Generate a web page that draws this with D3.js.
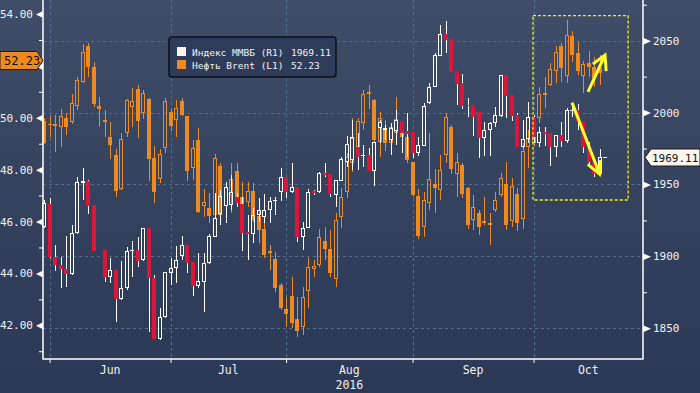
<!DOCTYPE html>
<html lang="ru">
<head>
  <meta charset="utf-8">
  <title>Индекс ММВБ и нефть Brent</title>
  <script src="https://cdn.jsdelivr.net/npm/d3@7"></script>
  <style>
    body {
      margin: 0;
      background: #2c3957;
    }

    svg text {
      font-family: "DejaVu Sans Mono", monospace;
    }
  </style>
</head>

<body>
  <div id="chart"></div>

  <script>
    // trading days, 31 May .. 28 Oct 2016 (only up to 20 Oct carry data)
    var days = d3.timeDay.range(new Date(2016, 4, 31), new Date(2016, 9, 29))
      .filter(function (d) { return d.getDay() !== 0 && d.getDay() !== 6; });

    var monthNames = ['Jun', 'Jul', 'Aug', 'Sep', 'Oct'];
    var yearLabel = '2016';
    var leftTicks = [42, 44, 46, 48, 50, 52, 54];
    var leftMinor = [41, 43, 45, 47, 49, 51, 53];
    var rightTicks = [1850, 1900, 1950, 2000, 2050];
    var rightMinor = [1875, 1925, 1975, 2025, 2075];

    // Brent (L1): open, high, low, close
    var brent = [
      [49.88, 49.99, 48.99, 49.03], [49.72, 50.07, 49.26, 49.76], [49.68, 50.11, 48.68, 49.76], [49.64, 50.34, 48.87, 50.07],
      [49.99, 50.18, 49.34, 49.64], [49.84, 50.92, 49.76, 50.57], [50.45, 51.57, 50.30, 51.46], [51.38, 52.84, 51.34, 52.54],
      [52.77, 52.88, 51.57, 51.96], [51.96, 52.15, 50.42, 50.53], [50.45, 50.80, 49.64, 50.34], [49.91, 50.30, 49.26, 49.84],
      [49.26, 49.84, 48.41, 48.95], [48.57, 48.80, 46.95, 47.18], [47.26, 49.41, 47.22, 49.18], [49.41, 50.72, 49.26, 50.69],
      [50.42, 51.15, 49.64, 50.65], [51.11, 51.26, 49.22, 49.88], [50.18, 51.07, 49.95, 50.96], [50.72, 50.76, 47.56, 48.41],
      [48.45, 48.91, 46.72, 47.14], [47.64, 48.80, 47.49, 48.60], [48.84, 50.76, 48.64, 50.65], [50.22, 50.34, 49.49, 49.68],
      [49.91, 50.69, 49.26, 50.38], [50.65, 50.76, 50.07, 50.11], [50.05, 50.07, 47.56, 47.95], [48.06, 49.14, 47.60, 48.84],
      [49.14, 49.61, 46.33, 46.37], [46.60, 47.26, 46.18, 46.75], [46.52, 47.10, 45.95, 46.21], [46.25, 48.60, 46.18, 48.45],
      [48.14, 48.26, 46.14, 46.25], [46.60, 47.53, 46.37, 47.33], [47.02, 48.26, 46.33, 47.64], [47.95, 48.26, 46.56, 46.95],
      [46.95, 47.53, 46.18, 46.68], [46.75, 47.53, 46.56, 47.18], [47.18, 47.49, 45.98, 46.06], [46.21, 46.72, 45.17, 45.68],
      [45.71, 46.10, 44.60, 44.71], [44.87, 45.10, 44.13, 44.79], [44.56, 44.83, 43.29, 43.44], [43.56, 43.63, 42.59, 42.67],
      [42.63, 43.09, 41.94, 42.44], [43.13, 43.86, 41.90, 42.09], [42.25, 43.09, 41.55, 41.78], [41.94, 43.48, 41.63, 43.09],
      [43.32, 44.60, 42.67, 44.25], [44.17, 44.52, 43.86, 44.29], [44.33, 45.71, 44.25, 45.41], [45.25, 45.79, 44.52, 44.94],
      [44.94, 45.68, 43.86, 44.02], [43.79, 46.33, 43.48, 46.06], [46.18, 47.29, 45.75, 46.95], [47.14, 48.64, 46.91, 48.49],
      [48.26, 49.99, 47.91, 49.22], [48.87, 49.99, 48.49, 49.88], [49.80, 51.07, 49.53, 50.92], [50.99, 51.26, 50.34, 50.92],
      [50.70, 50.72, 49.07, 49.14], [49.07, 50.22, 48.49, 49.99], [49.61, 49.91, 48.72, 49.03], [49.03, 49.80, 48.76, 49.64],
      [49.41, 50.80, 49.22, 49.95], [49.61, 49.84, 49.03, 49.26], [49.26, 49.76, 48.26, 48.37], [48.28, 48.30, 46.95, 47.02],
      [46.99, 47.26, 45.33, 45.44], [45.79, 47.14, 45.41, 46.83], [46.72, 49.41, 46.45, 47.64], [47.45, 48.03, 46.33, 47.29],
      [47.22, 48.57, 46.83, 47.99], [48.57, 50.18, 48.26, 50.03], [49.64, 49.72, 47.83, 48.03], [47.83, 48.64, 46.95, 48.30],
      [48.18, 48.26, 46.91, 47.06], [47.31, 47.33, 45.71, 45.87], [46.06, 47.02, 45.68, 46.56], [46.33, 46.45, 45.48, 45.79],
      [46.02, 46.95, 45.87, 45.95], [45.95, 46.33, 45.10, 45.87], [46.45, 47.14, 46.37, 46.83], [47.02, 47.87, 46.95, 47.68],
      [47.45, 48.30, 45.68, 45.87], [46.02, 47.68, 45.79, 47.37], [47.06, 47.29, 45.64, 45.95], [46.10, 49.03, 45.71, 48.72],
      [48.87, 49.53, 48.06, 49.22], [49.03, 49.38, 48.91, 49.26], [49.99, 51.19, 49.80, 50.92], [50.96, 51.57, 50.38, 50.88],
      [51.26, 52.11, 51.23, 51.88], [51.80, 52.77, 51.34, 52.54], [52.77, 52.88, 51.38, 51.92], [51.61, 53.77, 51.34, 53.19],
      [53.15, 53.34, 52.15, 52.42], [52.50, 52.92, 51.65, 51.80], [51.61, 52.19, 50.96, 52.07], [52.11, 52.57, 51.57, 51.96],
      [51.96, 52.34, 51.19, 51.53], [51.92, 52.42, 51.26, 51.73], [52.23, 52.30, 52.20, 52.23]
    ];

    // MICEX index (R1): open, high, low, close
    var micex = [
      [1920.4, 1939.2, 1919.7, 1937.1], [1936.4, 1940.6, 1898.9, 1899.6], [1899.6, 1907.9, 1889.8, 1894.0], [1894.0, 1899.6, 1878.0, 1891.2],
      [1891.2, 1914.2, 1878.7, 1887.8], [1887.8, 1921.8, 1887.1, 1916.3], [1916.3, 1955.2, 1915.6, 1951.7], [1951.0, 1961.5, 1939.2, 1952.4],
      [1952.4, 1953.1, 1929.5, 1935.0], [1935.7, 1935.9, 1903.5, 1903.8], null, [1904.4, 1904.6, 1882.2, 1885.7],
      [1885.7, 1898.9, 1881.5, 1890.5], [1890.5, 1890.7, 1854.4, 1870.4], [1870.4, 1896.8, 1869.7, 1878.0], [1878.0, 1906.5, 1876.6, 1903.8],
      [1903.8, 1910.7, 1885.7, 1904.4], [1904.4, 1913.5, 1892.6, 1896.8], [1897.5, 1919.7, 1896.8, 1919.5], [1919.5, 1919.7, 1847.4, 1885.0],
      [1885.0, 1887.1, 1842.2, 1842.6], [1842.6, 1864.1, 1841.9, 1857.9], [1857.9, 1889.2, 1857.2, 1889.0], [1888.5, 1898.9, 1880.1, 1891.9],
      [1891.9, 1907.2, 1881.5, 1897.5], [1900.3, 1914.2, 1897.5, 1907.9], [1907.7, 1907.9, 1888.5, 1895.4], [1896.0, 1896.1, 1872.5, 1879.4],
      [1879.4, 1902.4, 1878.0, 1882.9], [1882.2, 1902.4, 1861.3, 1895.4], [1895.4, 1915.6, 1894.7, 1914.2], [1913.5, 1944.1, 1913.3, 1926.7],
      [1929.5, 1946.2, 1921.8, 1942.0], [1935.0, 1951.7, 1923.2, 1948.3], [1935.7, 1956.6, 1932.3, 1944.8], [1941.3, 1944.1, 1934.4, 1937.1],
      [1936.4, 1941.3, 1903.8, 1916.3], [1917.0, 1928.8, 1897.5, 1915.6], [1915.6, 1933.7, 1909.3, 1928.8], [1928.8, 1940.6, 1923.9, 1932.3],
      [1927.4, 1943.4, 1923.2, 1932.3], [1932.3, 1941.3, 1923.2, 1938.5], [1938.5, 1941.3, 1928.8, 1939.2], [1944.8, 1961.5, 1938.5, 1955.2],
      [1955.0, 1955.2, 1940.6, 1944.8], [1944.8, 1964.9, 1944.1, 1948.3], [1948.1, 1948.3, 1910.0, 1913.5], [1913.5, 1923.9, 1904.4, 1919.7],
      [1919.7, 1946.9, 1919.5, 1944.8], [1945.5, 1946.2, 1942.7, 1944.1], [1944.8, 1958.7, 1944.1, 1958.0], [1958.0, 1964.9, 1955.2, 1956.6],
      [1957.1, 1957.3, 1941.3, 1943.4], [1942.7, 1953.1, 1934.4, 1953.0], [1952.4, 1969.1, 1952.2, 1967.7], [1965.6, 1983.7, 1962.2, 1978.2],
      [1967.0, 1994.9, 1960.1, 1983.0], [1976.1, 1985.8, 1960.1, 1969.1], [1969.8, 1977.5, 1962.2, 1970.5], [1970.5, 1975.4, 1959.2, 1959.4],
      [1959.4, 1979.6, 1949.0, 1979.4], [1989.3, 1994.9, 1978.9, 1993.5], [1987.9, 1991.4, 1980.9, 1989.3], [1980.9, 1992.8, 1970.5, 1989.3],
      [1987.2, 2001.8, 1977.5, 1994.9], [1994.0, 1994.2, 1971.9, 1985.8], [1987.2, 1999.7, 1969.1, 1985.1], [1986.3, 1986.5, 1968.4, 1971.9],
      [1971.9, 1983.0, 1969.8, 1977.5], [1976.8, 2006.7, 1976.6, 2004.6], [2006.7, 2020.6, 2006.0, 2017.8], [2017.8, 2041.4, 2017.6, 2040.1],
      [2039.4, 2060.9, 2039.2, 2054.7], [2054.7, 2063.7, 2041.4, 2050.5], [2051.0, 2051.2, 2028.0, 2028.2], [2028.7, 2028.9, 2005.3, 2019.9],
      [2020.6, 2026.8, 2002.5, 2004.6], [2005.3, 2010.2, 1996.9, 2004.6], [2005.1, 2005.3, 1983.7, 1996.9], [2000.2, 2000.4, 1968.4, 1982.3],
      [1982.3, 1993.5, 1969.8, 1987.9], [1987.9, 1993.5, 1969.8, 1992.8], [1992.8, 2003.9, 1990.0, 1998.3], [1997.6, 2026.1, 1996.9, 2026.0],
      [2026.0, 2026.1, 1996.2, 2011.5], [2012.0, 2012.2, 1994.2, 1997.6], [1998.3, 1999.7, 1975.9, 1976.1], [1976.1, 1994.9, 1975.4, 1981.6],
      [1981.6, 2007.4, 1978.9, 1996.9], [1996.9, 1998.3, 1978.9, 1983.0], [1978.9, 1990.0, 1976.1, 1986.5], [1986.5, 1990.0, 1976.8, 1985.1],
      [1985.6, 1985.8, 1962.9, 1976.1], [1976.1, 1984.4, 1969.1, 1984.2], [1984.4, 1993.5, 1976.1, 1980.2], [1980.2, 2003.2, 1978.9, 2001.8],
      [2001.1, 2006.7, 1996.9, 2001.8], [2001.8, 2006.0, 1987.9, 1993.5], [1993.3, 1993.5, 1971.9, 1976.1], [1976.1, 1979.6, 1962.2, 1965.6],
      [1965.4, 1965.6, 1955.2, 1957.3], [1957.3, 1974.7, 1957.1, 1969.11], [1969.11, 1969.11, 1969.11, 1969.11]
    ];

    var lastBrent = 52.23, lastMicex = 1969.11;

    // hand-drawn annotations: [day index, value]
    var boxCorners = [[88.9, 2067.5], [106.2, 1939.2]];               // right axis
    var arrowUp = [[98.9, 51.0], [102.0, 52.42], [99.8, 52.07], [102.2, 51.8]];   // left axis
    var arrowDown = [[96.0, 2006.9], [101.0, 1957.3], [98.85, 1964.0], [101.2, 1967.0]]; // right axis

    var width = 700, height = 393;
    var left = 43, right = 643, bottom = 359;

    var orange = '#ef8a1f', red = '#dc1539', white = '#ffffff', grid = '#556f8e';

    var xS = d3.scaleLinear().domain([-0.2, 108.9]).range([left, right]);
    var yL = d3.scaleLinear().domain([40.70, 54.54]).range([bottom, 0]);
    var yR = d3.scaleLinear().domain([1828.6, 2078.3]).range([bottom, 0]);

    var svg = d3.select('#chart').append('svg')
      .attr('width', width)
      .attr('height', height);

    var grad = svg.append('defs').append('linearGradient')
      .attr('id', 'bg').attr('x1', 0).attr('y1', 0).attr('x2', 0).attr('y2', 1);
    grad.append('stop').attr('offset', '0%').attr('stop-color', '#3f4d68');
    grad.append('stop').attr('offset', '45%').attr('stop-color', '#35435f');
    grad.append('stop').attr('offset', '100%').attr('stop-color', '#2b3856');

    svg.append('rect').attr('width', width).attr('height', height).attr('fill', 'url(#bg)');

    // month starts = first trading day of each month
    var monthStarts = [];
    days.forEach(function (d, i) {
      if (i > 0 && d.getMonth() !== days[i - 1].getMonth()) monthStarts.push(i);
    });

    // gridlines
    var gridG = svg.append('g')
      .attr('stroke', grid)
      .attr('stroke-dasharray', '3,3')
      .attr('shape-rendering', 'crispEdges');
    gridG.selectAll('.hg').data(rightTicks).join('line')
      .attr('x1', left).attr('x2', right)
      .attr('y1', d => Math.round(yR(d)) + 0.5).attr('y2', d => Math.round(yR(d)) + 0.5);
    gridG.selectAll('.vg').data(monthStarts).join('line')
      .attr('x1', d => Math.round(xS(d)) + 0.5).attr('x2', d => Math.round(xS(d)) + 0.5)
      .attr('y1', 0).attr('y2', bottom);

    // candles
    function candles(data, yS, bodyUp, bodyDown, wick) {
      var rows = data.map(function (d, i) {
        return d ? { i: i, o: d[0], h: d[1], l: d[2], c: d[3] } : null;
      }).filter(d => d);

      var g = svg.append('g').attr('shape-rendering', 'crispEdges');
      var c = g.selectAll('g').data(rows).join('g');

      c.each(function (d) {
        var cx = Math.round(xS(d.i));
        var top = Math.round(yS(Math.max(d.o, d.c)));
        var bot = Math.round(yS(Math.min(d.o, d.c)));
        if (bot - top < 1) bot = top + 1;
        var hy = Math.round(yS(d.h)), ly = Math.round(yS(d.l));
        var sel = d3.select(this);

        sel.append('path')
          .attr('d', 'M' + (cx + 0.5) + ',' + hy + 'V' + top + 'M' + (cx + 0.5) + ',' + bot + 'V' + Math.max(ly, bot))
          .attr('stroke', wick)
          .attr('fill', 'none');

        if (d.c > d.o && bot - top > 2) {
          sel.append('rect')
            .attr('x', cx - 1.5).attr('y', top + 0.5)
            .attr('width', 3).attr('height', bot - top - 1)
            .attr('fill', 'none')
            .attr('stroke', bodyUp);
        } else {
          sel.append('rect')
            .attr('x', cx - 2).attr('y', top)
            .attr('width', 4).attr('height', bot - top)
            .attr('fill', d.c > d.o || d.c === d.o ? bodyUp : bodyDown);
        }
      });
    }

    candles(brent, yL, orange, orange, orange);
    candles(micex, yR, white, red, white);

    // axes
    function styleAxis(g) {
      g.attr('font-family', '"DejaVu Sans Mono", monospace').attr('font-size', 11);
      g.selectAll('text').attr('fill', '#f2f2f2');
      g.selectAll('line').attr('stroke', white);
      g.select('.domain').remove();
    }

    svg.append('g').attr('transform', 'translate(' + left + ',0)')
      .call(d3.axisLeft(yL).tickValues(leftMinor).tickSize(4).tickFormat(''))
      .call(styleAxis);

    var la = svg.append('g').attr('transform', 'translate(' + left + ',0)')
      .call(d3.axisLeft(yL).tickValues(leftTicks).tickSize(0).tickPadding(10).tickFormat(d3.format('.2f')))
      .call(styleAxis);
    la.selectAll('.tick').append('path').attr('d', 'M-7,0L0,-3.5L0,3.5Z').attr('fill', white);

    svg.append('g').attr('transform', 'translate(' + right + ',0)')
      .call(d3.axisRight(yR).tickValues(rightMinor).tickSize(4).tickFormat(''))
      .call(styleAxis);

    var ra = svg.append('g').attr('transform', 'translate(' + right + ',0)')
      .call(d3.axisRight(yR).tickValues(rightTicks).tickSize(0).tickPadding(10).tickFormat(d3.format('d')))
      .call(styleAxis);
    ra.selectAll('.tick').append('path').attr('d', 'M8,0L0,-3.5L0,3.5Z').attr('fill', white);

    svg.append('g').attr('transform', 'translate(0,' + bottom + ')')
      .call(d3.axisBottom(xS).tickValues(monthStarts).tickSize(4).tickFormat(''))
      .call(styleAxis);

    // month labels centred between month starts
    var mids = monthStarts.map(function (s, k) {
      var e = k + 1 < monthStarts.length ? monthStarts[k + 1] : xS.domain()[1];
      return (s + e) / 2;
    });
    svg.append('g').selectAll('text').data(mids).join('text')
      .attr('x', d => xS(d)).attr('y', 374)
      .attr('text-anchor', 'middle')
      .attr('font-size', 11.5)
      .attr('fill', '#f2f2f2')
      .text((d, k) => monthNames[k]);
    svg.append('text')
      .attr('x', xS(mids[2])).attr('y', 389)
      .attr('text-anchor', 'middle')
      .attr('font-size', 11.5)
      .attr('fill', '#f2f2f2')
      .text(yearLabel);

    // axis frame
    svg.append('path')
      .attr('d', 'M' + left + ',0V' + bottom + 'H' + right + 'V0')
      .attr('fill', 'none')
      .attr('stroke', white)
      .attr('stroke-width', 1.5);

    // annotations
    svg.append('rect')
      .attr('x', xS(boxCorners[0][0])).attr('y', yR(boxCorners[0][1]))
      .attr('width', xS(boxCorners[1][0]) - xS(boxCorners[0][0]))
      .attr('height', yR(boxCorners[1][1]) - yR(boxCorners[0][1]))
      .attr('fill', 'none')
      .attr('stroke', '#f4ee1e')
      .attr('stroke-width', 1.3)
      .attr('stroke-dasharray', '3,2');

    function arrow(pts, yS) {
      var p = pts.map(d => [xS(d[0]), yS(d[1])]);
      svg.append('path')
        .attr('d', 'M' + p[0] + 'L' + p[1] + 'M' + p[2] + 'L' + p[1] + 'L' + p[3])
        .attr('fill', 'none')
        .attr('stroke', '#ffff2a')
        .attr('stroke-width', 3)
        .attr('stroke-linejoin', 'miter')
        .attr('stroke-linecap', 'butt');
    }
    arrow(arrowUp, yL);
    arrow(arrowDown, yR);

    // last value flags
    var fy = Math.round(yL(lastBrent)) + 0.5;
    svg.append('path')
      .attr('d', 'M0,' + (fy - 9) + 'H37L43,' + fy + 'L37,' + (fy + 9) + 'H0Z')
      .attr('fill', orange)
      .attr('stroke', '#1c1c1c');
    svg.append('text')
      .attr('x', 4).attr('y', fy + 4.5)
      .attr('font-size', 12)
      .attr('fill', '#111')
      .text(d3.format('.2f')(lastBrent));

    var ry = Math.round(yR(lastMicex)) + 0.5;
    svg.append('path')
      .attr('d', 'M645,' + ry + 'L651,' + (ry - 8.5) + 'H700V' + (ry + 8.5) + 'H651Z')
      .attr('fill', '#fdf5ee')
      .attr('stroke', '#1c1c1c');
    svg.append('text')
      .attr('x', 652).attr('y', ry + 4)
      .attr('font-size', 11)
      .attr('fill', '#111')
      .text(d3.format('.2f')(lastMicex));

    // legend
    var leg = svg.append('g').attr('transform', 'translate(169,37)');
    leg.append('rect')
      .attr('width', 167).attr('height', 40).attr('rx', 3)
      .attr('fill', '#2f3c59')
      .attr('stroke', '#0b0f19')
      .attr('stroke-width', 1.5);
    var items = [
      { name: 'Индекс ММВБ (R1)', value: d3.format('.2f')(lastMicex), color: '#fdf2ec' },
      { name: 'Нефть Brent (L1)', value: d3.format('.2f')(lastBrent), color: orange }
    ];
    var row = leg.selectAll('.item').data(items).join('g')
      .attr('transform', (d, k) => 'translate(8,' + (10 + k * 13) + ')');
    row.append('rect').attr('width', 9).attr('height', 9).attr('fill', d => d.color);
    row.append('text').attr('x', 15).attr('y', 8.5).attr('font-size', 9.5).attr('fill', '#f2f2f2').text(d => d.name);
    row.append('text').attr('x', 114).attr('y', 8.5).attr('font-size', 9.5).attr('fill', '#f2f2f2').text(d => d.value);
  </script>
</body>

</html>
